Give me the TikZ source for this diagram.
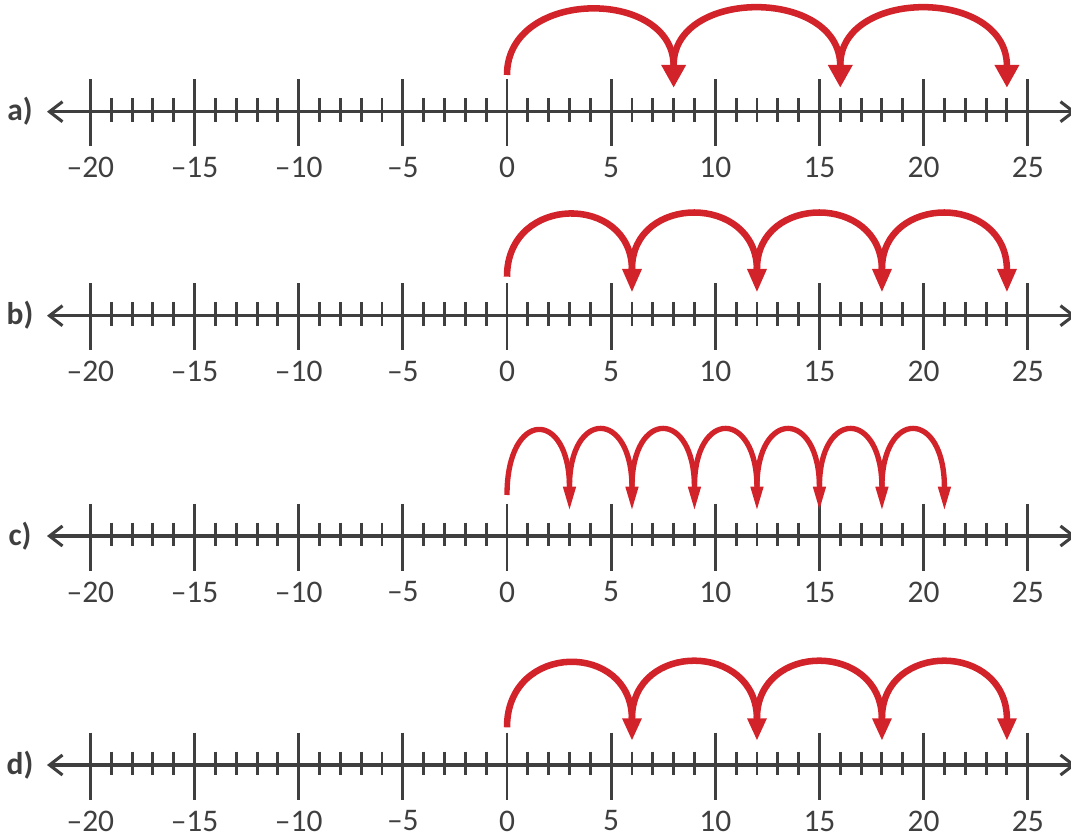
\documentclass[tikz,border=0pt]{standalone}
\usepackage{fontspec}
\setmainfont{Carlito}
\usetikzlibrary{arrows.meta}
\definecolor{ink}{HTML}{3F3F3F}
\definecolor{jumpred}{HTML}{D2232A}
\begin{document}
\begin{tikzpicture}[x=0.75pt,y=-0.75pt,
  axisline/.style={draw=ink, line width=2.3pt,
    {Straight Barb[length=9.75pt,width=15pt]}-{Straight Barb[length=9.75pt,width=15pt]}},
  tickline/.style={draw=ink, line width=2.2pt},
  numlabel/.style={text=ink, font=\fontsize{23.6}{28}\selectfont, inner sep=0pt},
  rowlabel/.style={text=ink, font=\fontsize{23.6}{28}\selectfont\bfseries, inner sep=0pt},
  jumparc/.style={draw=jumpred},
  jumphead/.style={fill=jumpred}]
\useasboundingbox (0,0) rectangle (1071,834);
% number lines
\foreach \yy/\lab in {111.7/a,315.7/b,536/c,765/d}{
  \draw[axisline] (47,\yy) -- (1076,\yy);
  \foreach \n in {-20,...,25}
    \draw[tickline] ({507+20.83*\n},{\yy-13.5}) -- ({507+20.83*\n},{\yy+10});
  \foreach \n/\t [count=\k] in {-20/–20,-15/–15,-10/–10,-5/–5,0/0,5/5,10/10,15/15,20/20,25/25}{
    \draw[tickline] ({507+20.83*\n},{\yy-32.5}) -- ({507+20.83*\n},{\yy+34.5});
    \node[numlabel] (num-\lab-\k) at ({507+20.83*\n},{\yy+56}) {\t};
  }
  \node[rowlabel] (lab-\lab) at (20,\yy) {\lab)};
}
% jumps
\foreach \ys/\yb/\yt/\c/\st/\last/\hw/\lw in
  {75/65/87.3/-12.3/8/16/12.5/4.9,
   276.7/269/291.7/193.5/6/18/10/4.9,
   495/486.7/509.3/408.8/3/18/6.7/4,
   727.3/718.3/740/641.3/6/18/10/4.9}{
  \foreach \s in {0,\st,...,\last}{
    \pgfmathsetmacro\xa{507+20.83*\s}
    \pgfmathsetmacro\xb{507+20.83*(\s+\st)}
    \pgfmathsetmacro\yst{\s==0 ? \ys : \yb}
    \draw[jumparc, line width=\lw pt] (\xa,\yst) .. controls (\xa,\c) and (\xb,\c) .. (\xb,{\yb+1});
    \fill[jumphead] ({\xb-\hw},\yb) -- ({\xb+\hw},\yb) -- (\xb,\yt) -- cycle;
  }
}
\end{tikzpicture}
\end{document}
